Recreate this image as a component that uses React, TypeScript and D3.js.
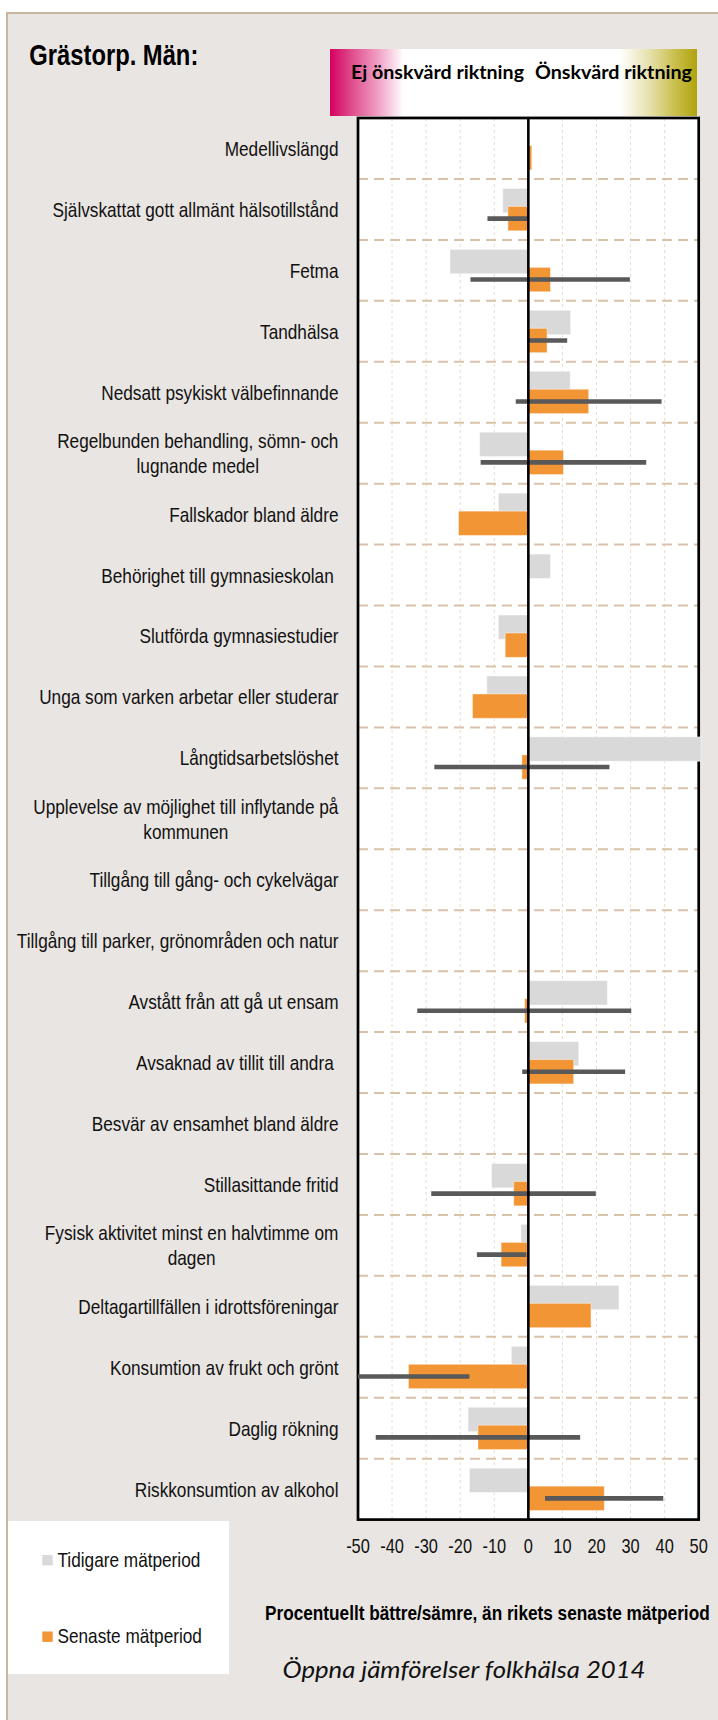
import React, { useMemo } from 'react';
import * as d3 from 'd3';

const categories: string[] = [
  'Medellivslängd',
  'Självskattat gott allmänt hälsotillstånd',
  'Fetma',
  'Tandhälsa',
  'Nedsatt psykiskt välbefinnande',
  'Regelbunden behandling, sömn- och\nlugnande medel',
  'Fallskador bland äldre',
  'Behörighet till gymnasieskolan ',
  'Slutförda gymnasiestudier',
  'Unga som varken arbetar eller studerar',
  'Långtidsarbetslöshet',
  'Upplevelse av möjlighet till inflytande på\nkommunen',
  'Tillgång till gång- och cykelvägar',
  'Tillgång till parker, grönområden och natur',
  'Avstått från att gå ut ensam',
  'Avsaknad av tillit till andra ',
  'Besvär av ensamhet bland äldre',
  'Stillasittande fritid',
  'Fysisk aktivitet minst en halvtimme om\ndagen',
  'Deltagartillfällen i idrottsföreningar',
  'Konsumtion av frukt och grönt',
  'Daglig rökning',
  'Riskkonsumtion av alkohol',
];

const tidigare: (number | null)[] = [
  null, -7.5, -23.0, 12.4, 12.3, -14.3, -8.8, 6.5, -8.8, -12.2, 50.7,
  null, null, null, 23.2, 14.8, null, -10.8, -2.2, 26.6, -5.0, -17.7, -17.3,
];

const senaste: (number | null)[] = [
  1.0, -6.0, 6.5, 5.5, 17.7, 10.3, -20.5, null, -6.8, -16.4, -1.9,
  null, null, null, -1.1, 13.3, null, -4.3, -8.0, 18.4, -35.2, -14.8, 22.3,
];

const errLow: (number | null)[] = [
  null, -12.0, -17.0, -0.3, -3.7, -14.0, null, null, null, null, -27.6,
  null, null, null, -32.6, -1.8, null, -28.5, -15.1, null, -50.0, -44.8, 4.9,
];

const errHigh: (number | null)[] = [
  null, -0.4, 29.8, 11.4, 39.1, 34.6, null, null, null, null, 23.8,
  null, null, null, 30.2, 28.4, null, 19.8, -0.6, null, -17.3, 15.2, 39.6,
];

const xTicks: number[] = [-50, -40, -30, -20, -10, 0, 10, 20, 30, 40, 50];

const legendLabels: string[] = ['Tidigare mätperiod', 'Senaste mätperiod'];

const GRAY = '#d9d9d9';
const ORANGE = '#f29535';
const ERR = '#595959';
const FONT = '"Liberation Sans", Arial, sans-serif';
const NARROW = 0.82;

function NText(props: {
  x: number; y: number; anchor?: string; size: number; weight?: string | number;
  fill?: string; children: React.ReactNode;
}) {
  const { x, y, anchor = 'start', size, weight = 'normal', fill = '#111', children } = props;
  return (
    <text
      transform={`translate(${x},${y}) scale(${NARROW},1)`}
      textAnchor={anchor}
      fontFamily={FONT}
      fontSize={size}
      fontWeight={weight}
      fill={fill}
      xmlSpace="preserve"
      style={{ whiteSpace: 'pre' }}
    >
      {children}
    </text>
  );
}

export default function App() {
  const W = 718;
  const H = 1720;
  const plotL = 358;
  const plotR = 698.7;
  const plotT = 118;
  const plotB = 1519.6;
  const labelRight = 338.5;
  const labelSize = 21;

  const x = d3.scaleLinear().domain([-50, 50]).range([plotL, plotR]);
  const y = d3.scaleBand<string>().domain(categories).range([plotT, plotB]).paddingInner(0);
  const bw = y.bandwidth();

  const measure = useMemo(() => {
    const c = document.createElement('canvas');
    const ctx = c.getContext('2d')!;
    return (s: string, size: number, weight = 'normal') => {
      ctx.font = `${weight} ${size}px "Liberation Sans", Arial, sans-serif`;
      return ctx.measureText(s).width * NARROW;
    };
  }, []);

  const bar = (v: number | null, i: number, off: number, color: string, key: string) => {
    if (v === null) return null;
    const y0 = (y(categories[i]) as number) + off * bw;
    const x0 = Math.min(x(0), x(v));
    const w = Math.abs(x(v) - x(0));
    return (
      <rect key={key} x={x0} y={y0} width={w} height={bw * 0.4} fill={color}
        stroke="rgba(255,255,255,0.45)" strokeWidth={1} />
    );
  };

  return (
    <svg width={W} height={H} style={{ position: 'absolute', left: 0, top: 0, background: '#fff' }}>
      <defs>
        <linearGradient id="hdr" x1="0" x2="1" y1="0" y2="0">
          <stop offset="0" stopColor="#d4005f" />
          <stop offset="0.06" stopColor="#e04d8e" />
          <stop offset="0.13" stopColor="#ef9fc2" />
          <stop offset="0.2" stopColor="#ffffff" />
          <stop offset="0.79" stopColor="#ffffff" />
          <stop offset="0.87" stopColor="#e6e1ad" />
          <stop offset="0.94" stopColor="#cabf4e" />
          <stop offset="1" stopColor="#b0a30c" />
        </linearGradient>
      </defs>

      {/* outer frame */}
      <rect x={7} y={13} width={W + 20} height={H + 20} fill="#e9e5e2" stroke="#c9b6a1" strokeWidth={2} />

      {/* title */}
      <NText x={29.3} y={65} size={29} weight="bold" fill="#000">Grästorp. Män:</NText>

      {/* header gradient box */}
      <rect x={330} y={49} width={367} height={67} fill="url(#hdr)" />
      <text x={351} y={79.3} fontFamily="Lato, 'Open Sans', sans-serif" fontWeight="bold" fontSize={19}
        textLength={173} lengthAdjust="spacingAndGlyphs" fill="#000">Ej önskvärd riktning</text>
      <text x={535} y={79.3} fontFamily="Lato, 'Open Sans', sans-serif" fontWeight="bold" fontSize={19}
        textLength={157} lengthAdjust="spacingAndGlyphs" fill="#000">Önskvärd riktning</text>

      {/* plot background */}
      <rect x={plotL} y={plotT} width={plotR - plotL} height={plotB - plotT} fill="#fff" />

      {/* vertical gridlines */}
      {xTicks.filter(t => t !== 0 && Math.abs(t) !== 50).map(t => (
        <line key={'g' + t} x1={x(t)} x2={x(t)} y1={plotT} y2={plotB}
          stroke="#ecdacd" strokeWidth={1} strokeDasharray="3,3" />
      ))}

      {/* horizontal separators */}
      {categories.slice(1).map((c, i) => (
        <line key={'s' + i} x1={plotL} x2={plotR} y1={y(c) as number} y2={y(c) as number}
          stroke="#d8c3a9" strokeWidth={2} strokeDasharray="10,6" />
      ))}

      {/* plot border */}
      <rect x={plotL} y={plotT} width={plotR - plotL} height={plotB - plotT} fill="none" stroke="#000" strokeWidth={2.7} />

      {/* bars */}
      {tidigare.map((v, i) => bar(v, i, 0.156, GRAY, 't' + i))}
      {senaste.map((v, i) => bar(v, i, 0.451, ORANGE, 'n' + i))}

      {/* error bars */}
      {errLow.map((lo, i) => {
        const hi = errHigh[i];
        if (lo === null || hi === null) return null;
        const yc = (y(categories[i]) as number) + 0.651 * bw;
        return (
          <line key={'e' + i} x1={x(lo)} x2={x(hi)} y1={yc} y2={yc} stroke={ERR} strokeWidth={4.6} />
        );
      })}

      {/* zero line */}
      <line x1={x(0)} x2={x(0)} y1={plotT} y2={plotB} stroke="#000" strokeWidth={2.6} />

      {/* category labels */}
      {categories.map((c, i) => {
        const lines = c.split('\n');
        const yc = (y(c) as number) + bw / 2;
        if (lines.length === 1) {
          return (
            <NText key={'l' + i} x={labelRight} y={yc + 7.5} anchor="end" size={labelSize}>{c}</NText>
          );
        }
        const w1 = measure(lines[0], labelSize);
        const cx = labelRight - w1 / 2;
        return (
          <g key={'l' + i}>
            {lines.map((ln, j) => (
              <NText key={j} x={cx} y={yc + 7.5 + (j - (lines.length - 1) / 2) * 25} anchor="middle" size={labelSize}>{ln}</NText>
            ))}
          </g>
        );
      })}

      {/* x tick labels */}
      {xTicks.map(t => (
        <NText key={'x' + t} x={x(t)} y={1552.7} anchor="middle" size={20}>{String(t)}</NText>
      ))}

      {/* legend */}
      <rect x={8} y={1521} width={221} height={153} fill="#fff" />
      <rect x={42.3} y={1555} width={10.4} height={10.4} fill={GRAY} />
      <NText x={57.5} y={1566.7} size={21}>{legendLabels[0]}</NText>
      <rect x={42.3} y={1631.5} width={10.4} height={10.4} fill={ORANGE} />
      <NText x={57.5} y={1643.3} size={21}>{legendLabels[1]}</NText>

      {/* axis title */}
      <NText x={265} y={1620} size={21} weight="bold" fill="#000">Procentuellt bättre/sämre, än rikets senaste mätperiod</NText>

      {/* source */}
      <text x={282.5} y={1678.3} fontFamily="Lato, 'Open Sans', sans-serif" fontStyle="italic" fontSize={23}
        textLength={363} lengthAdjust="spacingAndGlyphs" fill="#111">Öppna jämförelser folkhälsa 2014</text>
    </svg>
  );
}
